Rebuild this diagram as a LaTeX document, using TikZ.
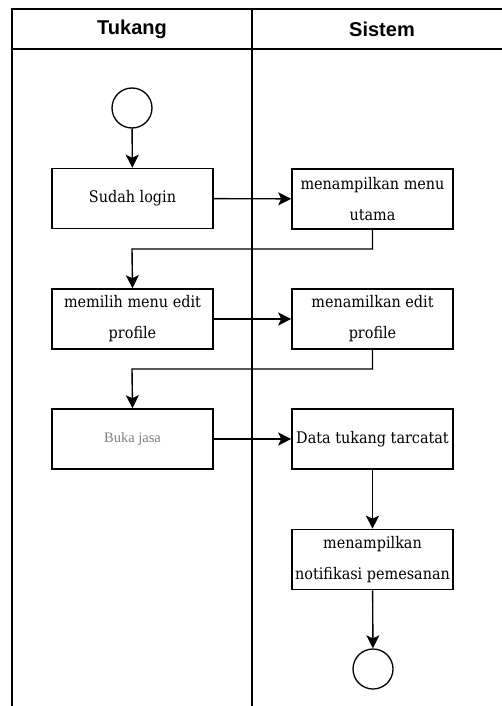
\documentclass[tikz,border=0pt]{standalone}
\usepackage{fontspec}
\setmainfont{DejaVu Serif}[FakeStretch=0.9]
\newfontfamily\hdrfont{Liberation Sans}
\newfontfamily\grayfont{Liberation Serif}
\usetikzlibrary{arrows.meta}
\begin{document}
\begin{tikzpicture}[x=1pt,y=-1pt,
  lane/.style={line width=1.7pt},
  actbox/.style={draw, line width=1.6pt, minimum width=161pt, minimum height=60pt, inner sep=0pt, align=center, font=\fontsize{16}{31}\selectfont},
  terminal/.style={draw, circle, line width=1.3pt, minimum size=40pt, inner sep=0pt},
  flow/.style={line width=1.4pt, -{Stealth[length=13pt,width=13pt,inset=3pt]}},
  hdr/.style={font=\hdrfont\bfseries\fontsize{20}{22}\selectfont}]
\useasboundingbox (0,0) rectangle (501,706);
\fill[white] (0,0) rectangle (501,706);
% swimlane frame
\draw[lane] (12,706) -- (12,9) -- (513,9);
\draw[lane] (12,49) -- (513,49);
\draw[lane] (252,9) -- (252,706);
\node[hdr] (h1) at (132,29) {Tukang};
\node[hdr] (h2) at (382,29) {Sistem};
% nodes
\node[terminal] (start) at (132,108) {};
\node[actbox] (login) at (132.5,198.5) {Sudah login};
\node[actbox] (menu) at (372.5,199) {menampilkan menu\\utama};
\node[actbox] (pilih) at (132.5,319) {memilih menu edit\\profile};
\node[actbox] (edit) at (372.5,319) {menamilkan edit\\profile};
\node[actbox, font=\grayfont\fontsize{14.5}{16}\selectfont, text=black!50] (buka) at (132.5,439) {Buka jasa};
\node[actbox] (data) at (372.5,439) {Data tukang tarcatat};
\node[actbox] (notif) at (372.5,559.5) {menampilkan\\notifikasi pemesanan};
\node[terminal] (end) at (373,669) {};
% connectors
\draw[flow] (start) -- (login);
\draw[flow] (login) -- (menu);
\draw[flow] (menu.south) |- (132,249) -- (pilih.north);
\draw[flow] (pilih) -- (edit);
\draw[flow] (edit.south) |- (132,369) -- (buka.north);
\draw[flow] (buka) -- (data);
\draw[flow] (data) -- (notif);
\draw[flow] (notif) -- (end);
\end{tikzpicture}
\end{document}
